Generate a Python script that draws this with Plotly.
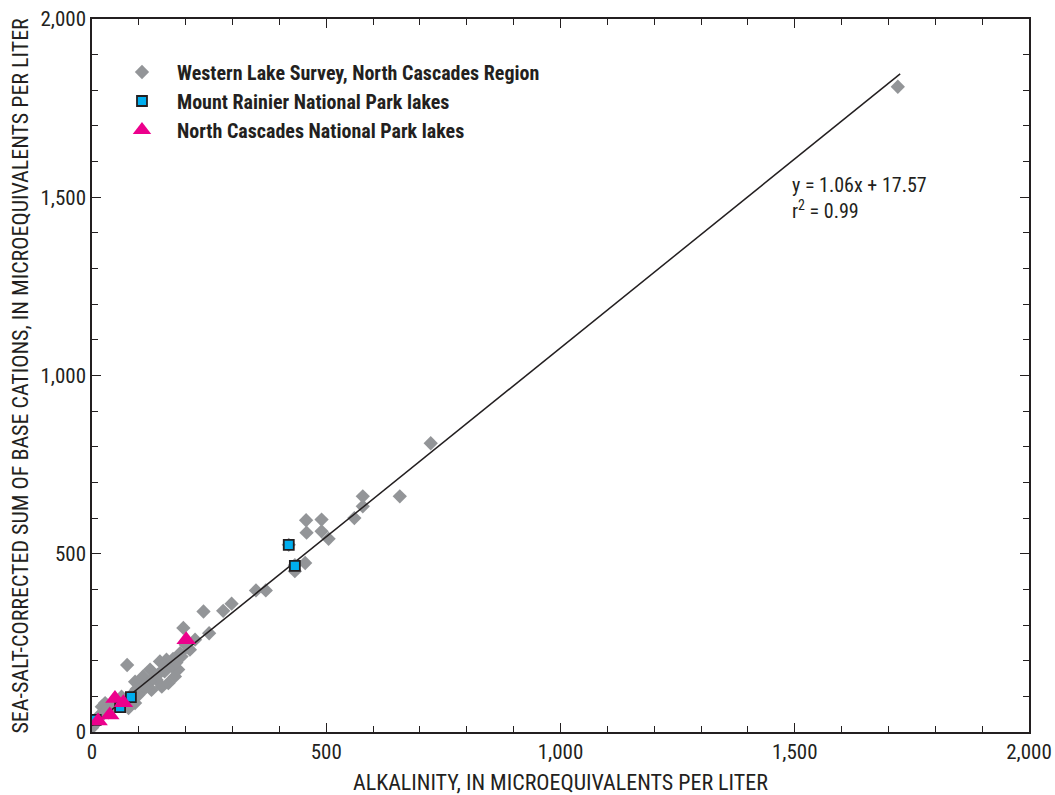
import plotly.graph_objects as go

# Western Lake Survey, North Cascades Region (alkalinity, base cations)
wls_x = [1720, 723, 657, 578, 578, 560, 457, 490, 458, 490, 505, 455, 433, 433, 420,
         350, 371, 298, 280, 238, 195, 250, 220, 209, 188, 181, 173, 159, 166, 145,
         152, 124, 109, 138, 92, 120, 75, 106, 127, 149, 163, 177, 184, 191, 63,
         49, 28, 21, 13, 0, 92, 78, 5, 35, 57, 100, 115, 200,
         130, 140, 155, 170, 180, 110, 95, 85, 70, 45, 30, 20]
wls_y = [1810, 810, 661, 661, 633, 600, 594, 596, 559, 563, 542, 474, 451, 468, 525,
         397, 397, 360, 340, 338, 292, 277, 259, 231, 221, 203, 205, 203, 194, 198,
         175, 175, 156, 146, 141, 137, 188, 118, 118, 127, 137, 156, 175, 212, 99,
         90, 81, 71, 43, 12, 81, 67, 20, 55, 78, 105, 125, 245,
         150, 160, 170, 185, 195, 130, 120, 105, 90, 70, 60, 45]

# Mount Rainier National Park lakes
mr_x = [420, 433, 83, 60, 8]
mr_y = [525, 466, 98, 70, 34]

# North Cascades National Park lakes
nc_x = [201, 49, 67, 38, 13]
nc_y = [259, 94, 82, 48, 31]

# Regression
slope = 1.06
intercept = 17.57
fit_x = [0, 1725]
fit_y = [slope * v + intercept for v in fit_x]

tick_vals = [0, 500, 1000, 1500, 2000]

x_title = "ALKALINITY, IN MICROEQUIVALENTS PER LITER"
y_title = "SEA-SALT-CORRECTED SUM OF BASE CATIONS, IN MICROEQUIVALENTS PER LITER"

FONT = "Liberation Sans Narrow, Roboto Condensed, Arial Narrow, Roboto, sans-serif"
INK = "#231f20"

fig = go.Figure()
fig.add_trace(go.Scatter(
    x=wls_x, y=wls_y, mode="markers", name="Western Lake Survey, North Cascades Region",
    marker=dict(symbol="diamond", size=11, color="#939598", line=dict(width=0))))
fig.add_trace(go.Scatter(
    x=fit_x, y=fit_y, mode="lines", showlegend=False,
    line=dict(color=INK, width=1.5)))
fig.add_trace(go.Scatter(
    x=mr_x, y=mr_y, mode="markers", name="Mount Rainier National Park lakes",
    marker=dict(symbol="square", size=10, color="#00aeef", line=dict(width=1.8, color=INK))))
fig.add_trace(go.Scatter(
    x=nc_x, y=nc_y, mode="markers", name="North Cascades National Park lakes",
    marker=dict(symbol="triangle-up", size=17, color="#ec008c", line=dict(width=0))))

axis_common = dict(
    range=[0, 2000], tickvals=tick_vals, tickformat=",",
    showgrid=False, zeroline=False, showline=True, linecolor=INK, linewidth=1.5,
    mirror="ticks", ticks="inside", ticklen=9, tickwidth=1, tickcolor=INK,
    minor=dict(dtick=100, ticks="inside", ticklen=6, tickwidth=1, tickcolor=INK),
    tickfont=dict(family=FONT, size=21, color=INK), automargin=False,
)

fig.update_layout(
    width=1055, height=795,
    margin=dict(l=92, r=26, t=19, b=63),
    paper_bgcolor="white", plot_bgcolor="white",
    font=dict(family=FONT, color=INK),
    xaxis=axis_common,
    yaxis=axis_common,
    legend=dict(x=0.016, y=0.953, xanchor="left", yanchor="top",
                bgcolor="rgba(0,0,0,0)", itemwidth=60,
                font=dict(family=FONT, size=20, color=INK, weight="bold")),
    showlegend=True,
)

fig.add_annotation(
    x=0.5, y=-0.0715, xref="paper", yref="paper", xanchor="center", yanchor="middle",
    text=x_title, showarrow=False, font=dict(family=FONT, size=22, color=INK))
fig.add_annotation(
    x=-0.0768, y=0.5, xref="paper", yref="paper", xanchor="center", yanchor="middle",
    text=y_title, textangle=-90, showarrow=False, font=dict(family=FONT, size=22, color=INK))

fig.add_annotation(
    x=1490, y=1497, xref="x", yref="y", xanchor="left", yanchor="middle",
    text="y = 1.06x + 17.57<br>r<sup>2</sup> = 0.99", showarrow=False, align="left",
    font=dict(family=FONT, size=20, color=INK))

fig.write_html("out.html")
